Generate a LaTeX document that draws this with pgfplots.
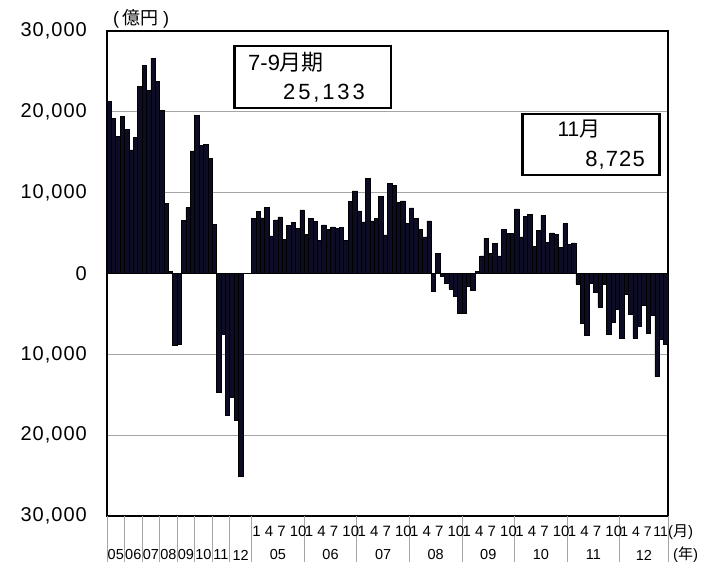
\documentclass[border=0pt]{standalone}
\usepackage{fontspec}
\setmainfont{Liberation Sans}
\newfontfamily\cjk{Noto Sans CJK JP}
\newfontfamily\tickfont[LetterSpace=5]{Liberation Sans}
\newfontfamily\widefont[LetterSpace=13]{Liberation Sans}
\usepackage{pgfplots}
\pgfplotsset{compat=1.18}
\definecolor{barnavy}{RGB}{12,12,36}
\definecolor{gridgray}{RGB}{165,165,165}
\begin{document}
\begin{tikzpicture}
\useasboundingbox (-107pt,-46pt) rectangle (595pt,516pt);
\begin{axis}[
  at={(0,0)}, anchor=south west,
  scale only axis, width=561pt, height=485pt,
  xmin=-0.5, xmax=127.5, ymin=-30000, ymax=30000,
  xtick=\empty,
  ytick={-30000,-20000,-10000,0,10000,20000,30000},
  yticklabels={{30,000},{20,000},{10,000},{0},{10,000},{20,000},{30,000}},
  scaled y ticks=false,
  yticklabel style={font=\tickfont\fontsize{20}{24}\selectfont, inner sep=0pt, xshift=-20pt, anchor=east},
  major tick length=0pt,
  ymajorgrids, grid style={gridgray, line width=0.8pt},
  axis line style={line width=1.4pt, black},
  clip=false,
]
% quarterly 2005Q1 - 2012Q3
\addplot[ybar, bar width=1, fill=barnavy, draw=black, line width=0.6pt] table[x=x,y=y] {
x y
0 21260
1 19200
2 16940
3 19480
4 17840
5 15280
6 16810
7 23110
8 25740
9 22650
10 26600
11 23730
12 20190
13 8670
14 250
15 -8910
16 -8700
17 6520
18 8170
19 15160
20 19570
21 15860
22 15990
23 14220
24 6030
25 -14670
26 -7470
27 -17550
28 -15370
29 -18170
30 -25133
};
% monthly 2005/1 - 2012/11
\addplot[ybar, bar width=1, fill=barnavy, draw=black, line width=0.6pt] table[x=x,y=y] {
x y
33 6830
34 7650
35 6870
36 8150
37 4650
38 6630
39 7000
40 4240
41 5970
42 6300
43 5560
44 7860
45 4810
46 6830
47 6420
48 4070
49 6010
50 5470
51 5760
52 5600
53 5680
54 4120
55 8890
56 10210
57 7740
58 6380
59 11770
60 6500
61 6790
62 9510
63 4770
64 11150
65 10900
66 8770
67 8970
68 6210
69 8110
70 6790
71 5470
72 4530
73 6500
74 -2260
75 2510
76 -300
77 -1190
78 -1930
79 -2840
80 -4940
81 -4900
82 -1600
83 -2140
84 290
85 2180
86 4320
87 2510
88 3740
89 2180
90 5470
91 4940
92 4940
93 8000
94 4530
95 7080
96 7280
97 3370
98 5350
99 7200
100 3870
101 5020
102 4810
103 3250
104 6170
105 3580
106 3790
107 -1360
108 -6170
109 -7650
110 -1230
111 -2350
112 -4120
113 -1320
114 -7490
115 -6050
116 -4400
117 -8020
118 -2550
119 -5100
120 -8020
121 -6500
122 -3950
123 -7410
124 -5190
125 -12760
126 -8150
127 -8725
};
\draw[black, line width=0.8pt] (axis cs:-0.5,0) -- (axis cs:127.5,0);
\end{axis}
% separators below the axis
\foreach \b in {-0.5,3.5,7.5,11.5,15.5,19.5,23.5,27.5,32.5,44.5,56.5,68.5,80.5,92.5,104.5,116.5,127.5}
  \draw[gridgray, line width=0.8pt] ({(\b+0.5)*4.3828pt},0) -- ++(0,-46pt);
% month labels
\foreach \k in {0,...,6}
  \node[anchor=west, inner sep=0pt, font=\fontsize{15}{17}\selectfont] at ({(33+12*\k)*4.3828pt+0.5pt},-15.7pt) {1 4 7 10};
\node[anchor=west, inner sep=0pt, font=\fontsize{14}{17}\selectfont] at ({117*4.3828pt+0.5pt},-15.7pt) {1 4 7};
\node[anchor=east, inner sep=0pt, font=\fontsize{14}{17}\selectfont] at (561pt,-15.7pt) {11};
\node[anchor=west, inner sep=0pt, font=\fontsize{15}{17}\selectfont] at (561pt,-15.7pt) {({\cjk 月})};
\node[anchor=west, inner sep=0pt, font=\fontsize{15}{17}\selectfont] at (566pt,-39pt) {({\cjk 年})};
% year labels
\foreach \c/\t in {1.5/05,5.5/06,9.5/07,13.5/08,17.5/09,21.5/10,25.5/11,30/12,38.5/05,50.5/06,62.5/07,74.5/08,86.5/09,98.5/10,110.5/11,122/12}
  \node[inner sep=0pt, font=\fontsize{14.5}{16}\selectfont] at ({(\c+0.5)*4.3828pt},-39pt) {\t};
% unit label
\node[anchor=west, inner sep=0pt, font=\fontsize{18}{20}\selectfont] at (6pt,497pt) {(\,{\cjk 億円}\ )};
% annotation boxes
\draw[black, line width=2.8pt] (127.5pt,408pt) rectangle (284pt,470pt);
\node[anchor=west, inner sep=0pt, font=\fontsize{22}{24}\selectfont] at (141pt,454pt) {7-9{\cjk 月期}};
\node[anchor=east, inner sep=0pt, font=\widefont\fontsize{22}{24}\selectfont] at (258pt,423pt) {25,133};
\draw[black, line width=2.8pt] (415.5pt,341pt) rectangle (552.5pt,402pt);
\node[inner sep=0pt, font=\fontsize{21}{24}\selectfont] at (472pt,387pt) {11{\cjk 月}};
\node[anchor=east, inner sep=0pt, font=\tickfont\fontsize{22}{24}\selectfont] at (538pt,356pt) {8,725};
\end{tikzpicture}
\end{document}
